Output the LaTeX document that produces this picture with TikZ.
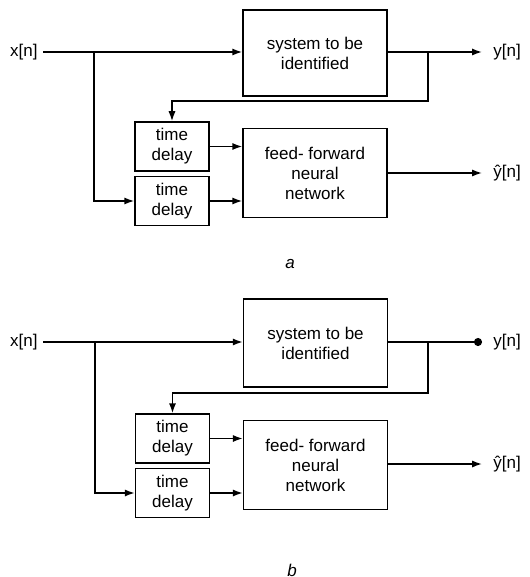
\documentclass[tikz,border=0pt]{standalone}
\usepackage{fontspec}
\setmainfont{Liberation Sans}
\usetikzlibrary{arrows.meta,calc}
\begin{document}
\begin{tikzpicture}[x=0.5pt,y=-0.5pt,
  every node/.style={font=\fontsize{8.5}{10}\selectfont},
  blk/.style={draw,line width=0.75pt,rectangle,align=center,inner sep=0pt},
  sysbox/.style={blk,minimum width=72pt,minimum height=43pt},
  tdbox/.style={blk,minimum width=37pt,minimum height=24.5pt},
  nnbox/.style={blk,minimum width=72pt,minimum height=44.5pt},
  wire/.style={line width=0.75pt},
  arr/.style={wire,-{Latex[length=5pt,width=3.6pt]}},
  dotarr/.style={wire,-{Circle[length=4pt]}},
  lbl/.style={inner sep=0pt}
]
\useasboundingbox (0,0) rectangle (529,577);
% ---------- a ----------
\node[lbl,anchor=east] (xa) at (38,52) {x[n]};
\node[sysbox] (sysa) at (315,53) {system to be\\identified};
\node[tdbox] (td1a) at (172,146.5) {time\\delay};
\node[tdbox] (td2a) at (172,201) {time\\delay};
\node[nnbox] (nna) at (315,173) {feed- forward\\neural\\network};
\node[lbl,anchor=west] (ya) at (493,52) {y[n]};
\node[lbl,anchor=west] (yha) at (493,173) {\^{y}[n]};
\coordinate (xsa) at (43,52);
\coordinate (ba) at (94,52);
\coordinate (fa) at (428,52);
\coordinate (fba) at (428,101);
\coordinate (yea) at (482,52);
\coordinate (yhea) at (482,173);
\draw[arr] (xsa) -- (xsa -| sysa.west);
\draw[arr] (ba) |- (td2a.west);
\draw[arr] (sysa.east |- xsa) -- (yea);
\draw[arr] (fa) -- (fba) -| (td1a.north);
\draw[arr] (td1a.east) -- (td1a.east -| nna.west);
\draw[arr] (td2a.east) -- (td2a.east -| nna.west);
\draw[arr] (nna.east |- yhea) -- (yhea);
\node[font=\fontsize{8.5}{10}\selectfont\itshape] (la) at (290,264) {a};
% ---------- b ----------
\node[lbl,anchor=east] (xb) at (38,342) {x[n]};
\node[sysbox,minimum height=44pt] (sysb) at (315.5,343) {system to be\\identified};
\node[tdbox] (td1b) at (172.5,438.5) {time\\delay};
\node[tdbox] (td2b) at (172.5,493) {time\\delay};
\node[nnbox] (nnb) at (315.5,465) {feed- forward\\neural\\network};
\node[lbl,anchor=west] (yb) at (493,342) {y[n]};
\node[lbl,anchor=west] (yhb) at (493,464) {\^{y}[n]};
\coordinate (xsb) at (43,342);
\coordinate (bb) at (95,342);
\coordinate (fb) at (428,342);
\coordinate (fbb) at (428,393);
\coordinate (yeb) at (482,342);
\coordinate (yheb) at (482,464);
\draw[arr] (xsb) -- (xsb -| sysb.west);
\draw[arr] (bb) |- (td2b.west);
\draw[dotarr] (sysb.east |- xsb) -- (yeb);
\draw[arr] (fb) -- (fbb) -| (td1b.north);
\draw[arr] (td1b.east) -- (td1b.east -| nnb.west);
\draw[arr] (td2b.east) -- (td2b.east -| nnb.west);
\draw[arr] (nnb.east |- yheb) -- (yheb);
\node[font=\fontsize{8.5}{10}\selectfont\itshape] (lb) at (292,570) {b};
\end{tikzpicture}
\end{document}
